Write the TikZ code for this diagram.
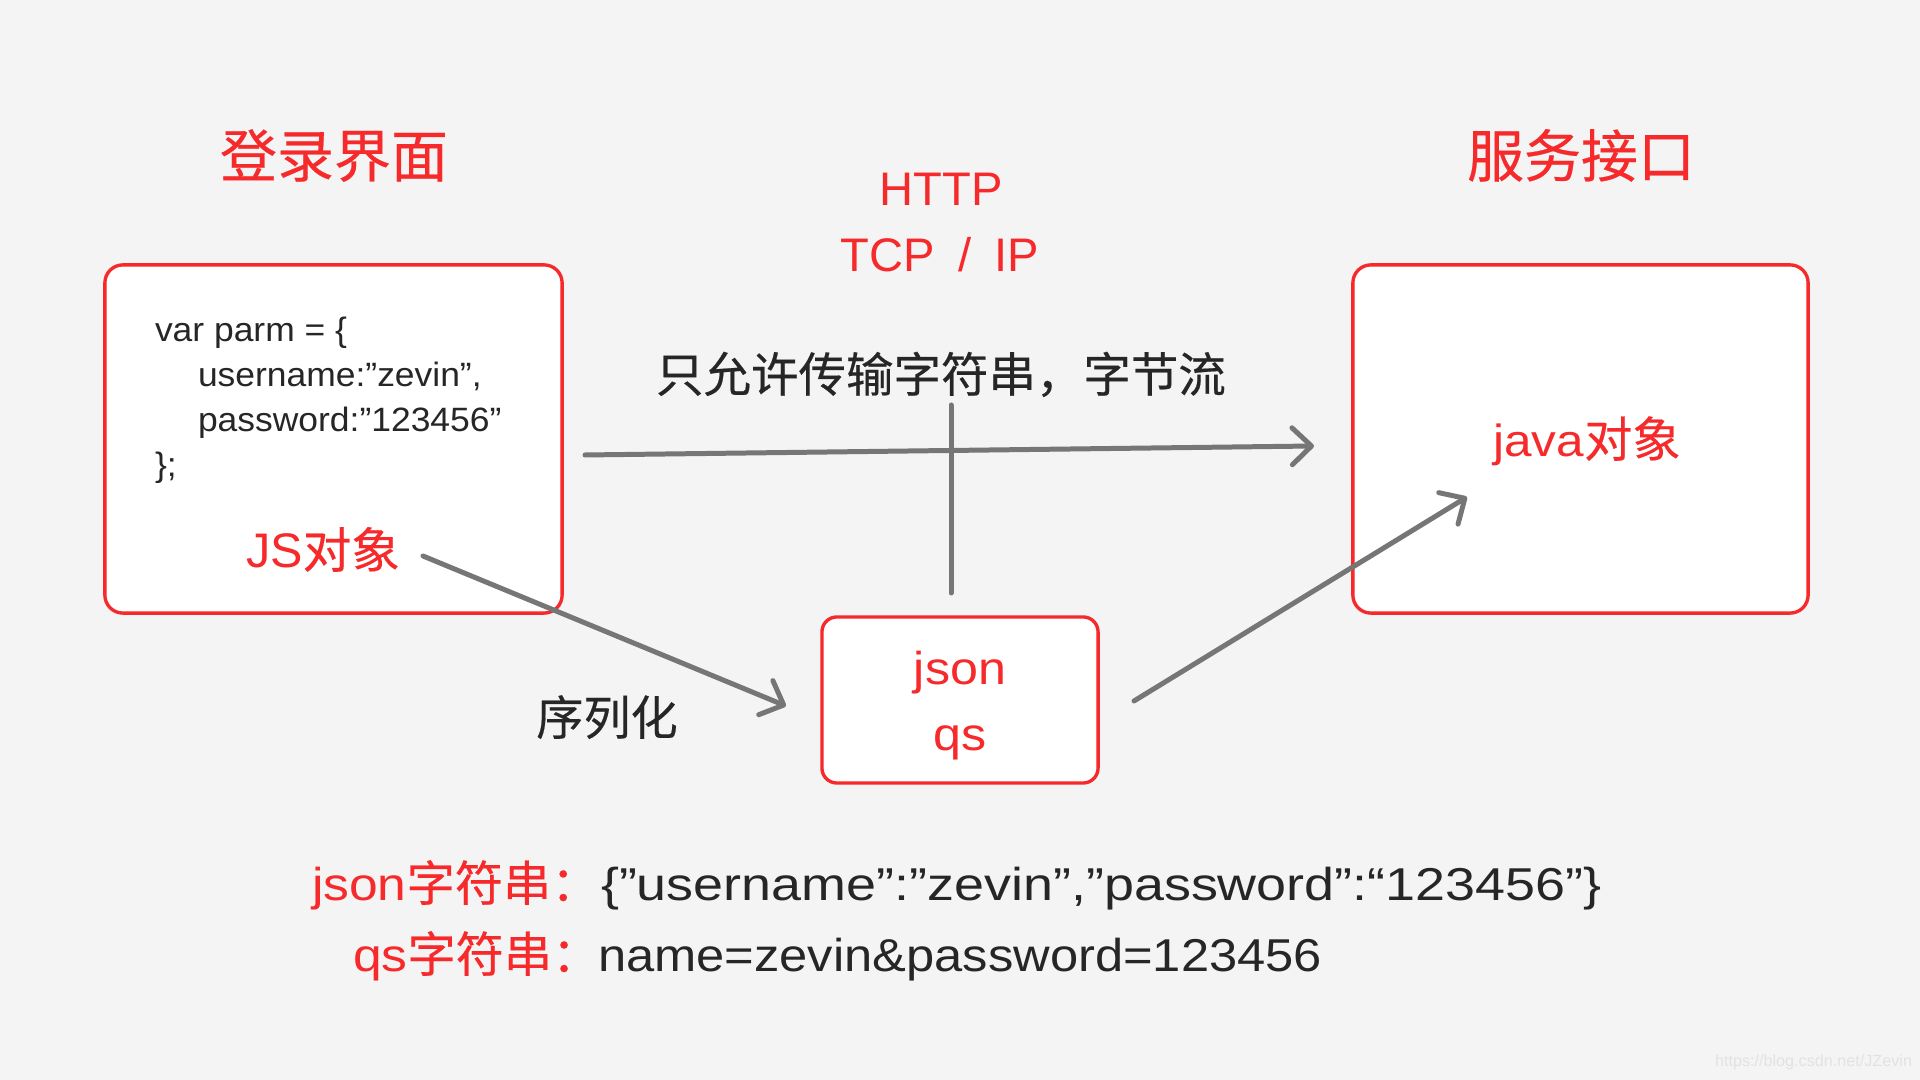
\documentclass[tikz,border=0pt]{standalone}
\usepackage{fontspec}
\usepackage{graphicx}
\setmainfont{Liberation Sans}
\newfontfamily\cjk[FakeBold=0.4]{Noto Sans CJK SC}
\usetikzlibrary{arrows.meta}
\definecolor{myred}{RGB}{246,41,43}
\definecolor{arrowgray}{RGB}{118,118,118}
\definecolor{txt}{RGB}{38,38,38}
\definecolor{bgc}{RGB}{244,244,244}
\definecolor{wm}{RGB}{226,226,226}
\newcommand{\fsz}[1]{\fontsize{#1}{#1}\selectfont}
\newcommand{\wlat}[2][1.1]{\scalebox{#1}[1]{#2}}
\begin{document}
\begin{tikzpicture}[x=0.01cm,y=-0.01cm,
  card/.style={draw=myred, line width=0.95pt, fill=white, rounded corners=0.18cm, inner sep=0pt},
  lbl/.style={inner sep=0pt, outer sep=0pt},
  redtxt/.style={lbl, text=myred},
  darktxt/.style={lbl, text=txt},
  conn/.style={draw=arrowgray, line width=1.42pt, line cap=round},
  tip/.style={-{Straight Barb[length=5.5pt,width=10.5pt,round]}}
]
\fill[bgc] (0,0) rectangle (1920,1080);
\useasboundingbox (0,0) rectangle (1920,1080);

% boxes
\node[card, minimum width=4.57cm, minimum height=3.48cm] (jsbox) at (333.5,439) {};
\node[card, minimum width=4.55cm, minimum height=3.48cm] (javabox) at (1580.5,439) {};
\node[card, minimum width=2.76cm, minimum height=1.66cm, rounded corners=0.15cm] (mid) at (960,700) {};

% titles
\node[redtxt, anchor=base] (t1) at (334,177) {\cjk\fsz{16.2pt}登录界面};
\node[redtxt, anchor=base] (t2) at (1581,177) {\cjk\fsz{16.2pt}服务接口};
\node[redtxt, anchor=base] (http) at (941,206) {\fsz{13.4pt}HTTP};
\node[redtxt, anchor=base] (tcp) at (940,272) {\fsz{13.4pt}TCP\hspace{0.1cm} /\hspace{0.1cm} IP};
\node[darktxt, anchor=base] (only) at (941,392) {\cjk\fsz{13.5pt}只允许传输字符串，字节流};

% code in left box
\node[darktxt, anchor=base west] (c1) at (155,342) {\fsz{9.6pt}\wlat[1.05]{var parm = \{}};
\node[darktxt, anchor=base west] (c2) at (198,387) {\fsz{9.6pt}\wlat[1.05]{username:”zevin”,}};
\node[darktxt, anchor=base west] (c3) at (198,432) {\fsz{9.6pt}\wlat[1.05]{password:”123456”}};
\node[darktxt, anchor=base west] (c4) at (155,477) {\fsz{9.6pt}\wlat[1.05]{\};}};
\node[redtxt, anchor=base] (js) at (323,568) {\fsz{13.8pt}JS\cjk 对象};

% right box
\node[redtxt, anchor=base] (java) at (1587,457) {\fsz{12.8pt}\wlat{java}\cjk\fsz{13.7pt}对象};

% middle box
\node[redtxt, anchor=base] (json) at (960,685) {\fsz{13.1pt}\wlat[1.09]{json}};
\node[redtxt, anchor=base] (qs) at (960,751) {\fsz{13.1pt}\wlat[1.09]{qs}};

% serialize label
\node[darktxt, anchor=base] (ser) at (607,735) {\cjk\fsz{13.4pt}序列化};

% bottom lines
\node[redtxt, anchor=base west] (l1) at (312,901) {\fsz{13.1pt}\wlat[1.12]{json}\cjk\fsz{13.7pt}字符串：};
\node[darktxt, anchor=base west] (v1) at (601,901) {\fsz{13.1pt}\wlat[1.17]{\{”username”:”zevin”,”password”:“123456”\}}};
\node[redtxt, anchor=base west] (l2) at (353,972) {\fsz{13.1pt}\wlat[1.12]{qs}\cjk\fsz{13.7pt}字符串：};
\node[darktxt, anchor=base west] (v2) at (598,972) {\fsz{13.1pt}\wlat[1.10]{name=zevin\&password=123456}};

% watermark
\node[lbl, text=wm, anchor=base east] (wmk) at (1912,1067) {\fsz{4.6pt}https://blog.csdn.net/JZevin};

% connector end points
\coordinate (hA) at (585,455);
\coordinate (hB) at (1314,446);
\coordinate (vA) at (951,405);
\coordinate (vB) at (951,593);
\coordinate (sA) at (423,556);
\coordinate (sB) at (786,706);
\coordinate (rA) at (1134,701);
\coordinate (rB) at (1467,497);

\draw[conn, tip] (hA) -- (hB);
\draw[conn] (vA) -- (vB);
\draw[conn, tip] (sA) -- (sB);
\draw[conn, tip] (rA) -- (rB);
\end{tikzpicture}
\end{document}
